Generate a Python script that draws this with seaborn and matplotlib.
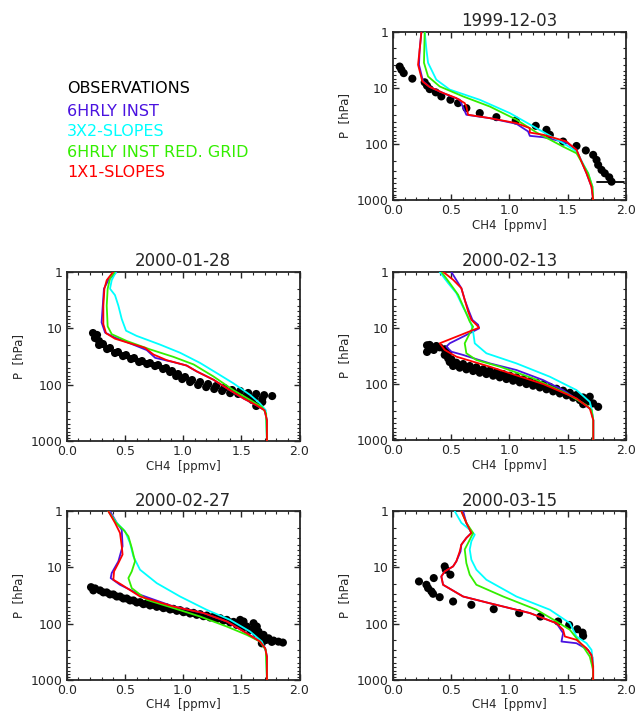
import numpy as np
import matplotlib
matplotlib.use("Agg")
import matplotlib.pyplot as plt
import matplotlib.ticker as mticker
import seaborn as sns

# ---- legend / series names ----
series_names = ['OBSERVATIONS', '6HRLY INST', '3X2-SLOPES', '6HRLY INST RED. GRID', '1X1-SLOPES']
series_colors = ['black', '#4a12e0', '#00ffff', '#33ee00', '#ff0000']
dates = ['1999-12-03', '2000-01-28', '2000-02-13', '2000-02-27', '2000-03-15']

# ---- 1999-12-03 ----
obs_1_ch4 = [0.057, 0.072, 0.092, 0.166, 0.272, 0.292, 0.315, 0.367, 0.415, 0.493, 0.559, 0.630, 0.745, 0.888,
             1.054, 1.226, 1.318, 1.347, 1.461, 1.576, 1.656, 1.719, 1.748, 1.762, 1.791, 1.819, 1.857, 1.877]
obs_1_p = [4.2, 4.8, 5.5, 6.9, 8.0, 9.2, 10.6, 12.1, 14.3, 16.4, 18.8, 23.1, 28.3, 33.4,
           38.3, 47.7, 56.2, 69, 90.9, 109, 131, 157, 193, 237, 291, 334, 394, 471]
bar_1_ch4 = [1.75, 1.98]
bar_1_p = [471, 471]
inst_1_ch4 = [0.244, 0.229, 0.223, 0.258, 0.315, 0.444, 0.573, 0.630, 0.831, 1.06, 1.16, 1.175, 1.289, 1.49, 1.576, 1.662, 1.705, 1.719]
inst_1_p = [1, 2.1, 3.9, 7.7, 9.7, 12.8, 16.4, 30.3, 34.8, 43.9, 60, 72, 76, 94.5, 128, 334, 580, 1000]
s32_1_ch4 = [0.272, 0.287, 0.301, 0.372, 0.487, 0.745, 1.003, 1.232, 1.461, 1.576, 1.676, 1.713, 1.719]
s32_1_p = [1, 2.1, 3.6, 7.2, 10.8, 16.4, 28.3, 52.5, 97.2, 136, 334, 580, 1000]
red_1_ch4 = [0.272, 0.266, 0.301, 0.401, 0.602, 0.831, 1.06, 1.232, 1.461, 1.576, 1.676, 1.713, 1.719]
red_1_p = [1, 3.6, 6.3, 9.5, 14.3, 21.6, 37.1, 62.6, 112, 147, 334, 580, 1000]
s11_1_ch4 = [0.244, 0.235, 0.215, 0.252, 0.315, 0.43, 0.544, 0.616, 0.63, 0.645, 0.831, 1.06, 1.175, 1.175,
             1.289, 1.49, 1.576, 1.662, 1.705, 1.719]
s11_1_p = [1, 1.59, 3.9, 7.7, 9.7, 12.4, 15.3, 18.8, 21.6, 30.3, 34.8, 42.7, 52.5, 62.9, 68.7, 90.7, 128, 334, 580, 1000]

# ---- 2000-01-28 (dense sonde profile) ----
obs_2_ch4 = [0.243, 0.278, 0.312, 0.372, 0.441, 0.510, 0.579, 0.647, 0.716, 0.785, 0.854, 0.905, 0.957, 1.017,
             1.077, 1.146, 1.215, 1.284, 1.353, 1.421, 1.49, 1.559, 1.628, 1.696, 1.765, 1.594, 1.628, 1.68,
             0.226, 0.261, 0.278, 0.347, 0.415, 0.484, 0.553, 0.622, 0.690, 0.759, 0.828, 0.888, 0.940, 0.992,
             1.060, 1.129, 1.198, 1.267, 1.335, 1.404, 1.473, 1.542, 1.611, 1.679]
obs_2_p = [15.0, 16.9, 19.1, 22.5, 26.5, 30.0, 33.9, 38.3, 41.6, 45.1, 51, 57.6, 65.1, 73.6,
           83.2, 90.3, 98, 106, 115, 125, 130, 141, 147, 154, 160, 188, 240, 204,
           12.2, 13.2, 19.9, 23.5, 27.6, 31.3, 35.3, 39.9, 43.3, 47.0, 53.1, 60.0, 70.7, 79.9,
           90.3, 102, 111, 120, 130, 142, 147, 160, 173, 181]
inst_2_ch4 = [0.43, 0.358, 0.32, 0.31, 0.30, 0.33, 0.415, 0.544, 0.688, 0.76, 0.917, 1.03, 1.117, 1.26, 1.40, 1.52, 1.63, 1.70, 1.72, 1.72]
inst_2_p = [1, 1.41, 2.0, 4.0, 7.9, 12, 14.7, 18.6, 24.5, 33.6, 40, 46, 58.5, 82, 125, 177, 233, 286, 430, 1000]
s32_2_ch4 = [0.424, 0.387, 0.372, 0.415, 0.444, 0.473, 0.51, 0.60, 0.80, 0.974, 1.146, 1.29, 1.43, 1.576, 1.66, 1.71, 1.72]
s32_2_p = [1, 1.41, 2.0, 2.6, 4.0, 6.9, 11.1, 13.7, 19.5, 27.3, 41.4, 62.8, 94.5, 153, 216, 286, 1000]
red_2_ch4 = [0.415, 0.372, 0.352, 0.344, 0.352, 0.387, 0.516, 0.716, 0.917, 1.09, 1.26, 1.43, 1.576, 1.676, 1.713, 1.72]
red_2_p = [1, 1.32, 2.0, 4.0, 9.3, 12.8, 16.9, 23.8, 32.3, 44, 71.7, 125, 188, 249, 327, 1000]
s11_2_ch4 = [0.40, 0.344, 0.324, 0.315, 0.315, 0.338, 0.415, 0.544, 0.673, 0.745, 0.86, 1.03, 1.117, 1.26, 1.40, 1.52, 1.63, 1.70, 1.72, 1.72]
s11_2_p = [1, 1.41, 2.0, 4.0, 8.5, 12.3, 15.4, 18.6, 22.3, 29.3, 37, 46, 58.5, 82, 125, 177, 233, 286, 430, 1000]

# ---- 2000-02-13 ----
obs_3_ch4 = [0.292, 0.315, 0.292, 0.35, 0.401, 0.444, 0.444, 0.473, 0.487, 0.544, 0.602, 0.659, 0.716, 0.774,
             0.831, 0.888, 0.946, 1.003, 1.06, 1.117, 1.175, 1.232, 1.289, 1.347, 1.404, 1.461, 1.519, 1.576,
             1.633, 1.676, 1.719, 1.762, 1.633, 1.69,
             0.315, 0.372, 0.473, 0.501, 0.516, 0.573, 0.630, 0.688, 0.745, 0.802, 0.860, 0.917, 0.974, 1.031,
             1.089, 1.146, 1.203, 1.261, 1.318, 1.375, 1.433, 1.490, 1.547, 1.605, 1.656]
obs_3_p = [20.4, 23.7, 26.8, 24.7, 22.2, 24.0, 30.3, 34.8, 40.5, 41.6, 44, 47.7, 50.4, 54.7,
           57.8, 61.9, 66.3, 71.0, 76, 82.5, 88.4, 94.7, 101, 112, 121, 131, 143, 157,
           173, 193, 221, 254, 228, 168,
           20.1, 21.0, 28.3, 36.3, 47.7, 51.1, 54.7, 58.6, 62.8, 66.3, 71.0, 76.0, 81.4, 87.2,
           93.4, 100, 107, 115, 124, 135, 147, 159, 175, 193, 212]
inst_3_ch4 = [0.50, 0.587, 0.616, 0.653, 0.682, 0.731, 0.739, 0.602, 0.487, 0.458, 0.501, 0.602, 0.831, 1.06, 1.289, 1.461, 1.633, 1.705, 1.72, 1.72]
inst_3_p = [1, 1.96, 3.16, 5.1, 7.2, 8.8, 10.2, 14.3, 18.8, 21.5, 26.5, 30.3, 42.8, 56.2, 84.8, 128, 221, 291, 440, 1000]
s32_3_ch4 = [0.40, 0.473, 0.544, 0.60, 0.645, 0.673, 0.688, 0.702, 0.802, 1.06, 1.347, 1.576, 1.69, 1.708, 1.72, 1.72]
s32_3_p = [1, 1.59, 2.4, 4.2, 6.3, 8.8, 11.6, 18.8, 28.3, 42.8, 74, 128, 207, 291, 440, 1000]
red_3_ch4 = [0.415, 0.487, 0.559, 0.616, 0.659, 0.688, 0.659, 0.616, 0.63, 0.716, 0.917, 1.203, 1.49, 1.66, 1.705, 1.72, 1.72]
red_3_p = [1, 1.59, 2.57, 4.77, 7.7, 9.5, 12.5, 18.8, 28.3, 37.3, 49, 79, 147, 237, 291, 440, 1000]
s11_3_ch4 = [0.43, 0.516, 0.587, 0.616, 0.645, 0.673, 0.716, 0.739, 0.401, 0.444, 0.544, 0.831, 1.29, 1.576, 1.69, 1.72, 1.72]
s11_3_p = [1, 1.39, 1.96, 3.16, 5.1, 7.2, 8.8, 9.9, 18.8, 24.7, 32.5, 49, 100, 180, 272, 440, 1000]

# ---- 2000-02-27 ----
obs_4_ch4 = [0.209, 0.244, 0.287, 0.344, 0.401, 0.458, 0.516, 0.573, 0.63, 0.688, 0.745, 0.802, 0.86, 0.917,
             0.974, 1.031, 1.089, 1.146, 1.203, 1.261, 1.318, 1.375, 1.433, 1.49, 1.547, 1.605, 1.648, 1.691,
             1.734, 1.777, 1.819, 1.857, 1.676, 1.605, 1.519,
             0.229, 0.315, 0.372, 0.430, 0.487, 0.544, 0.602, 0.659, 0.716, 0.774, 0.831, 0.888, 0.946, 1.003,
             1.060, 1.117, 1.175, 1.232, 1.289, 1.347, 1.404, 1.461, 1.519, 1.576, 1.628, 1.668, 1.713, 1.762,
             1.49, 1.633]
obs_4_p = [22.5, 23.7, 25.7, 27.9, 30.3, 33, 35.8, 38.8, 41.6, 44, 46.4, 49, 51.8, 54.7,
           57.8, 61.1, 64.5, 68.1, 72, 76, 80.3, 86, 93.4, 103, 113, 124, 139, 159,
           183, 201, 210, 218, 225, 98.6, 92,
           25.7, 27.9, 30.3, 33.0, 35.8, 38.8, 42.2, 45.2, 47.7, 50.4, 53.2, 56.2, 59.4, 62.8,
           66.3, 70.0, 74.0, 78.1, 82.6, 88.4, 95.9, 106, 116, 130, 149, 171, 196, 212,
           86, 113]
inst_4_ch4 = [0.372, 0.43, 0.473, 0.48, 0.444, 0.387, 0.378, 0.458, 0.63, 0.917, 1.175, 1.375, 1.547, 1.66, 1.705, 1.72, 1.72]
inst_4_p = [1, 1.61, 2.13, 4.2, 7.8, 12.6, 15.5, 20.4, 30.7, 49.7, 65, 92, 149, 209, 275, 389, 1000]
s32_4_ch4 = [0.358, 0.43, 0.501, 0.544, 0.573, 0.63, 0.774, 0.974, 1.203, 1.404, 1.576, 1.676, 1.713, 1.72]
s32_4_p = [1, 1.61, 2.27, 3.68, 6.4, 11, 19.1, 33, 57, 86, 139, 209, 316, 1000]
red_4_ch4 = [0.358, 0.424, 0.487, 0.53, 0.559, 0.587, 0.559, 0.53, 0.559, 0.688, 0.917, 1.146, 1.375, 1.547, 1.66, 1.71, 1.72]
red_4_p = [1, 1.61, 2.13, 2.8, 4.5, 7.8, 11.8, 15.5, 23.4, 37.8, 53, 75, 113, 159, 209, 295, 1000]
s11_4_ch4 = [0.358, 0.415, 0.458, 0.473, 0.48, 0.444, 0.407, 0.401, 0.473, 0.63, 0.917, 1.175, 1.375, 1.547, 1.66, 1.705, 1.72, 1.72]
s11_4_p = [1, 1.61, 2.44, 4.2, 5.9, 8.4, 11.8, 16.6, 20.4, 33, 49.7, 65, 92, 149, 209, 275, 389, 1000]

# ---- 2000-03-15 ----
obs_5_ch4 = [0.223, 0.287, 0.301, 0.33, 0.344, 0.35, 0.401, 0.444, 0.453, 0.493, 0.516, 0.673, 0.865, 1.083,
             1.266, 1.418, 1.513, 1.582, 1.628, 1.633]
obs_5_p = [17.8, 20.4, 23.4, 26.8, 29.5, 15.5, 33.9, 9.6, 11, 13.5, 40.5, 46.4, 55.5, 65.3,
           75, 92, 106, 126, 145, 166]
inst_5_ch4 = [0.602, 0.63, 0.673, 0.63, 0.587, 0.58, 0.544, 0.516, 0.444, 0.415, 0.43, 0.602, 0.831, 1.175, 1.404, 1.461, 1.447, 1.576, 1.676, 1.713, 1.719]
inst_5_p = [1, 1.61, 2.44, 2.99, 3.94, 5.2, 7.8, 9.6, 11.8, 14.5, 20.4, 33, 43.5, 65, 98.6, 148, 209, 224, 295, 400, 1000]
s32_5_ch4 = [0.53, 0.587, 0.659, 0.702, 0.673, 0.659, 0.673, 0.716, 0.802, 1.06, 1.347, 1.519, 1.576, 1.662, 1.705, 1.719, 1.719]
s32_5_p = [1, 1.61, 2.13, 2.61, 3.43, 4.8, 7.3, 11, 16.6, 33, 56.7, 98.6, 170, 224, 295, 560, 1000]
red_5_ch4 = [0.587, 0.63, 0.688, 0.645, 0.616, 0.63, 0.659, 0.716, 0.946, 1.232, 1.404, 1.519, 1.633, 1.69, 1.719, 1.719]
red_5_p = [1, 1.61, 2.44, 3.67, 4.8, 8.4, 13.5, 20.4, 33, 56.7, 91.8, 129, 257, 388, 673, 1000]
s11_5_ch4 = [0.587, 0.63, 0.673, 0.63, 0.587, 0.573, 0.544, 0.516, 0.444, 0.415, 0.43, 0.602, 0.831, 1.175, 1.404, 1.461, 1.476, 1.576, 1.662, 1.705, 1.719, 1.719]
s11_5_p = [1, 1.61, 2.44, 2.99, 3.94, 5.2, 7.8, 9.6, 11.8, 14.5, 20.4, 33, 43.5, 65, 98.6, 129, 170, 195, 275, 362, 581, 1000]

panels = [
    (obs_1_ch4, obs_1_p, [(inst_1_ch4, inst_1_p), (s32_1_ch4, s32_1_p), (red_1_ch4, red_1_p), (s11_1_ch4, s11_1_p)]),
    (obs_2_ch4, obs_2_p, [(inst_2_ch4, inst_2_p), (s32_2_ch4, s32_2_p), (red_2_ch4, red_2_p), (s11_2_ch4, s11_2_p)]),
    (obs_3_ch4, obs_3_p, [(inst_3_ch4, inst_3_p), (s32_3_ch4, s32_3_p), (red_3_ch4, red_3_p), (s11_3_ch4, s11_3_p)]),
    (obs_4_ch4, obs_4_p, [(inst_4_ch4, inst_4_p), (s32_4_ch4, s32_4_p), (red_4_ch4, red_4_p), (s11_4_ch4, s11_4_p)]),
    (obs_5_ch4, obs_5_p, [(inst_5_ch4, inst_5_p), (s32_5_ch4, s32_5_p), (red_5_ch4, red_5_p), (s11_5_ch4, s11_5_p)]),
]

sns.set_style('ticks')
plt.rcParams['font.family'] = ['DejaVu Sans']

fig = plt.figure(figsize=(6.38, 7.17), dpi=100)

# axes boxes [left, bottom, width, height] in figure fractions
boxes = [
    [0.616, 0.721, 0.365, 0.235],
    [0.1045, 0.385, 0.365, 0.236],
    [0.616, 0.386, 0.365, 0.235],
    [0.1045, 0.052, 0.365, 0.235],
    [0.616, 0.052, 0.365, 0.235],
]

for i, (ocx, ocp, models) in enumerate(panels):
    ax = fig.add_axes(boxes[i])
    sns.scatterplot(x=ocx, y=ocp, ax=ax, color='black', s=34, edgecolor='none', zorder=2)
    if i == 0:
        sns.lineplot(x=bar_1_ch4, y=bar_1_p, ax=ax, color='black', lw=1.3, sort=False, estimator=None)
    for (mx, mp), col in zip(models, series_colors[1:]):
        sns.lineplot(x=mx, y=mp, ax=ax, color=col, lw=1.3, sort=False, estimator=None, zorder=3)

    ax.set_yscale('log')
    ax.set_ylim(1000, 1)
    ax.set_xlim(0, 2)
    ax.set_yticks([1, 10, 100, 1000])
    ax.set_yticklabels(['1', '10', '100', '1000'])
    ax.yaxis.set_minor_locator(mticker.LogLocator(base=10, subs=np.arange(2, 10)))
    ax.yaxis.set_minor_formatter(mticker.NullFormatter())
    ax.set_xticks([0.0, 0.5, 1.0, 1.5, 2.0])
    ax.set_xticklabels(['0.0', '0.5', '1.0', '1.5', '2.0'])
    ax.xaxis.set_minor_locator(mticker.MultipleLocator(0.1))
    ax.tick_params(which='both', direction='in', top=True, right=True, labelsize=9, pad=3)
    ax.tick_params(which='major', length=4, width=1)
    ax.tick_params(which='minor', length=2, width=0.8)
    for sp in ax.spines.values():
        sp.set_linewidth(1.3)
    ax.set_title(dates[i], fontsize=12, pad=4)
    ax.set_xlabel('CH4  [ppmv]', fontsize=8.5, labelpad=1)
    ax.set_ylabel('P  [hPa]', fontsize=8.5, labelpad=4)

# text legend in the empty upper-left area
leg_y = [0.876, 0.845, 0.816, 0.788, 0.759]
for name, col, yy in zip(series_names, series_colors, leg_y):
    fig.text(0.105, yy, name, color=col, fontsize=11.5, va='center', ha='left')

fig.savefig('out.png', dpi=100)
